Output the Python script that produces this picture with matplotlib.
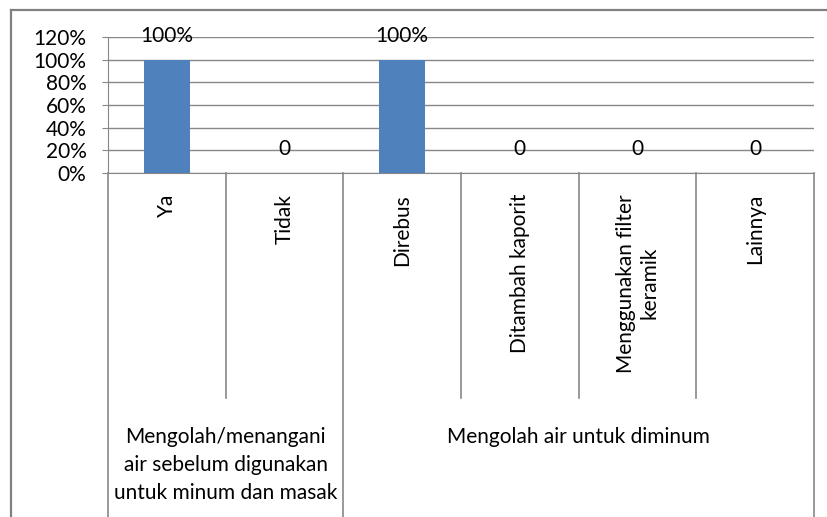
import matplotlib.pyplot as plt
import matplotlib.transforms as mtransforms

# Data
kategori = ['Ya', 'Tidak', 'Direbus', 'Ditambah kaporit',
            'Menggunakan filter\nkeramik', 'Lainnya']
nilai = [1.0, 0.0, 1.0, 0.0, 0.0, 0.0]
label_nilai = ['100%', '0', '100%', '0', '0', '0']
kelompok = ['Mengolah/menangani\nair sebelum digunakan\nuntuk minum dan masak',
            'Mengolah air untuk diminum']
kelompok_rentang = [(0, 1), (2, 5)]
yticks = [0, 0.2, 0.4, 0.6, 0.8, 1.0, 1.2]
ytick_labels = ['0%', '20%', '40%', '60%', '80%', '100%', '120%']

plt.rcParams['font.family'] = ['Lato', 'DejaVu Sans']
W, H = 827, 517
fig = plt.figure(figsize=(W / 100, H / 100), dpi=100)
garis = '#878787'
fs = 15

# Plot area in pixel coordinates
x0, x1, ytop, ybot = 108, 814, 37, 173
ax = fig.add_axes([x0 / W, 1 - ybot / H, (x1 - x0) / W, (ybot - ytop) / H])

n = len(kategori)
xs = list(range(n))
ax.bar(xs, nilai, width=0.39, color='#4F81BD', zorder=3)
ax.set_xlim(-0.5, n - 0.5)
ax.set_ylim(0, 1.2)
ax.set_yticks(yticks)
ax.set_yticklabels(ytick_labels, fontsize=fs)
ax.set_xticks([])
ax.yaxis.grid(True, color=garis, linewidth=1, zorder=0)
ax.tick_params(axis='y', length=4.5, color=garis, pad=11)
for s in ['top', 'right']:
    ax.spines[s].set_visible(False)
for s in ['left', 'bottom']:
    ax.spines[s].set_color(garis)

# Value labels
for x, v, t in zip(xs, nilai, label_nilai):
    ax.annotate(t, (x, v), xytext=(0, 17), textcoords='offset points',
                ha='center', va='center', fontsize=fs)

# Category axis table below the plot
tr = mtransforms.blended_transform_factory(ax.transData, fig.transFigure)
y_axis = 1 - ybot / H
y_inner = 1 - 398 / H
batas_kelompok = [-0.5] + [b + 0.5 for a, b in kelompok_rentang]
for i in range(n + 1):
    xb = i - 0.5
    y_end = 0 if xb in batas_kelompok else y_inner
    ax.plot([xb, xb], [y_axis, y_end], color=garis, lw=1.2,
            transform=tr, clip_on=False)

for x, k in zip(xs, kategori):
    ax.text(x, 1 - 194 / H, k, rotation=90, ha='center', va='top',
            multialignment='center', fontsize=fs, transform=tr,
            linespacing=1.25)

for (a, b), k in zip(kelompok_rentang, kelompok):
    ax.text((a + b) / 2, 1 - 427 / H, k, ha='center', va='top',
            multialignment='center', fontsize=fs, transform=tr,
            linespacing=1.5)

# Chart frame
fig.add_artist(plt.Line2D([11 / W, 1], [1 - 10 / H, 1 - 10 / H],
                          color='#808080', lw=1.6, transform=fig.transFigure))
fig.add_artist(plt.Line2D([11 / W, 11 / W], [0, 1 - 10 / H],
                          color='#808080', lw=1.6, transform=fig.transFigure))

plt.savefig('out.png', dpi=100)
